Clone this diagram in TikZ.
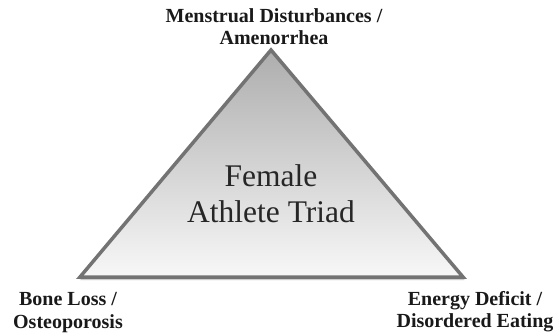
\documentclass[tikz,border=0pt]{standalone}
\usepackage{fontspec}
\setmainfont{Liberation Serif}
\usepackage{xcolor}
\definecolor{triadedge}{gray}{0.45}
\definecolor{triadtop}{gray}{0.68}
\definecolor{triadbottom}{gray}{0.97}
\definecolor{triadtext}{gray}{0.15}
\usepackage{tikz}
\usetikzlibrary{shadows.blur}
\tikzset{
  softshadow/.style={blur shadow={shadow blur steps=6,
    shadow xshift=0.8pt, shadow yshift=-2pt, shadow opacity=35}},
  cornerlabel/.style={align=center, inner sep=0pt, text=black!90,
    font=\bfseries\fontsize{20}{22.5}\selectfont},
  triadtitle/.style={align=center, inner sep=0pt, text=triadtext,
    font=\fontsize{31.5}{36}\selectfont},
}

\begin{document}
\begin{tikzpicture}[x=1pt, y=1pt]
\useasboundingbox (0,0) rectangle (560,333);
% corners of the triad
\coordinate (apex)  at (271,283);
\coordinate (left)  at (80,56);
\coordinate (right) at (463,56);
% triangle
\path[draw=triadedge, line width=3.5pt, line join=miter,
      top color=triadtop, bottom color=triadbottom, softshadow]
  (apex) -- (left) -- (right) -- cycle;
% texts
\node[triadtitle] (triad) at (271,139) {Female\\Athlete Triad};
\node[cornerlabel, anchor=north] (menses) at (274,325) {Menstrual Disturbances /\\Amenorrhea};
\node[cornerlabel, anchor=south] (bone)   at (68,0.5)  {Bone Loss /\\Osteoporosis};
\node[cornerlabel, anchor=south] (energy) at (475,0.5) {Energy Deficit /\\Disordered Eating};
\end{tikzpicture}
\end{document}
